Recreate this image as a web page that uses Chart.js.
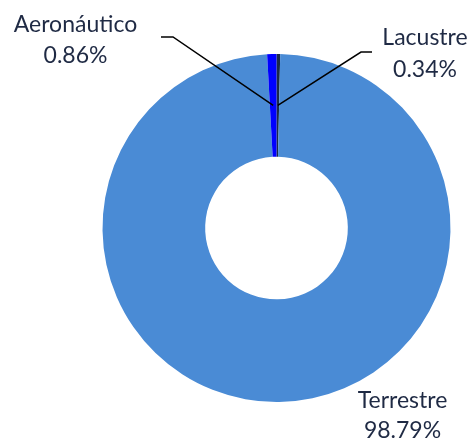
<!DOCTYPE html>
<html>
<head>
<meta charset="utf-8">
<script src="https://cdn.jsdelivr.net/npm/chart.js@4"></script>
<style>
  html, body { margin: 0; padding: 0; background: #fff; }
  #wrap { width: 473px; height: 441px; }
</style>
</head>
<body>
<div id="wrap"><canvas id="chart" width="473" height="441"></canvas></div>
<script>
// datos del grafico
const categorias = ["Lacustre", "Terrestre", "Aeronáutico"];
const porcentajes = [0.34, 98.79, 0.86];
const colores = ["#1B2A47", "#4A8BD5", "#0000FF"];

// posicion de etiquetas y lineas guia (solo layout)
const etiquetas = [
  { x: 425, y: [45, 77], codo: [361, 52], fin: [372, 52] },
  { x: 402.5, y: [408, 438] },
  { x: 75.5, y: [32, 63], codo: [173, 37], fin: [161, 37] }
];

const textColor = "#1F2A44";

const pluginEtiquetas = {
  id: "etiquetas",
  afterDatasetsDraw(chart) {
    const ctx = chart.ctx;
    const meta = chart.getDatasetMeta(0);
    ctx.save();
    meta.data.forEach((arc, i) => {
      const e = etiquetas[i];
      const p = arc.getProps(["x", "y", "startAngle", "endAngle", "innerRadius", "outerRadius"], true);
      const ang = (p.startAngle + p.endAngle) / 2;
      const r = (p.innerRadius + p.outerRadius) / 2;
      if (e.codo) {
        ctx.beginPath();
        ctx.strokeStyle = "#000";
        ctx.lineWidth = 1.5;
        ctx.moveTo(p.x + Math.cos(ang) * r, p.y + Math.sin(ang) * r);
        ctx.lineTo(e.codo[0], e.codo[1]);
        ctx.lineTo(e.fin[0], e.fin[1]);
        ctx.stroke();
      }
      ctx.fillStyle = textColor;
      ctx.font = "23px Lato, 'Open Sans', sans-serif";
      ctx.textAlign = "center";
      ctx.textBaseline = "alphabetic";
      ctx.fillText(categorias[i], e.x, e.y[0]);
      ctx.fillText(porcentajes[i].toFixed(2) + "%", e.x, e.y[1]);
    });
    ctx.restore();
  }
};

new Chart(document.getElementById("chart"), {
  type: "doughnut",
  data: {
    labels: categorias,
    datasets: [{
      data: porcentajes,
      backgroundColor: colores,
      borderWidth: 0
    }]
  },
  options: {
    responsive: false,
    animation: false,
    cutout: "41%",
    layout: { padding: { left: 102.5, right: 22.5, top: 54, bottom: 39 } },
    plugins: {
      legend: { display: false },
      tooltip: { enabled: false }
    }
  },
  plugins: [pluginEtiquetas]
});
</script>
</body>
</html>
